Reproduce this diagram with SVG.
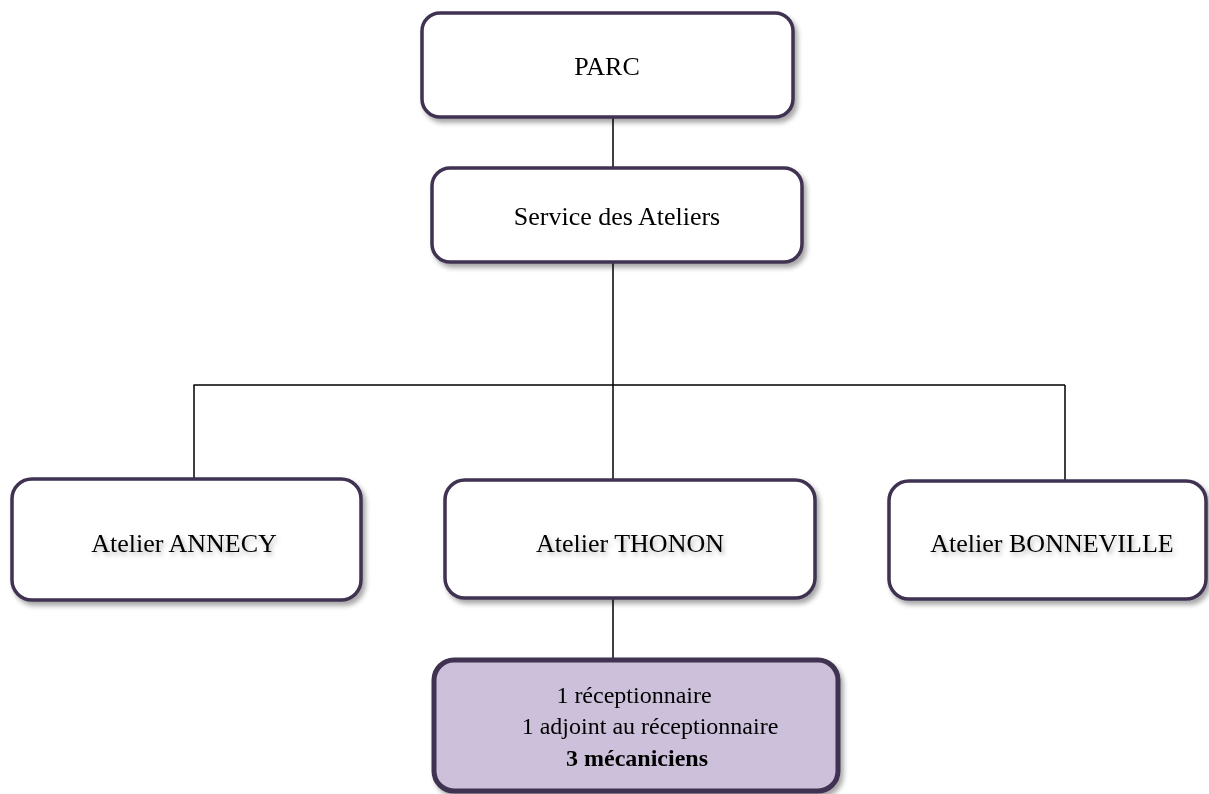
<svg xmlns="http://www.w3.org/2000/svg" width="1209" height="794" viewBox="0 0 1209 794">
<defs>
<filter id="sh" x="-10%" y="-10%" width="125%" height="130%">
<feDropShadow dx="3" dy="4" stdDeviation="2.5" flood-color="#000" flood-opacity="0.35"/>
</filter>
<filter id="tsh" x="-10%" y="-30%" width="125%" height="170%">
<feDropShadow dx="2" dy="3" stdDeviation="2.5" flood-color="#000" flood-opacity="0.3"/>
</filter>
</defs>
<style>
.box{fill:#ffffff;stroke:#3f3151;stroke-width:3.5}
.hl{fill:#ccc0da;stroke:#3f3151;stroke-width:5}
.t{font-family:"Liberation Serif","Times New Roman",serif;font-size:26px;fill:#000;text-anchor:middle}
.ts{filter:url(#tsh)}
.s{font-size:24px}
.b{font-weight:bold}
.c{fill:none;stroke:#000;stroke-width:1.5}
</style>
<rect width="1209" height="794" fill="#ffffff"/>
<g id="connectors">
<line class="c" x1="613" y1="117" x2="613" y2="168"/>
<line class="c" x1="613" y1="262" x2="613" y2="385"/>
<line class="c" x1="193.5" y1="385" x2="1065" y2="385"/>
<line class="c" x1="194" y1="385" x2="194" y2="479"/>
<line class="c" x1="613" y1="385" x2="613" y2="480"/>
<line class="c" x1="1065" y1="385" x2="1065" y2="481"/>
<line class="c" x1="613" y1="598" x2="613" y2="660"/>
</g>
<g id="parc" filter="url(#sh)">
<rect class="box" x="422" y="13" width="371" height="104" rx="18"/>
<text class="t" x="607" y="75">PARC</text>
</g>
<g id="service" filter="url(#sh)">
<rect class="box" x="432" y="168" width="370" height="94" rx="18"/>
<text class="t" x="617" y="225">Service des Ateliers</text>
</g>
<g id="annecy" filter="url(#sh)">
<rect class="box" x="12" y="479" width="349" height="121" rx="20"/>
<text class="t ts" x="184" y="552">Atelier ANNECY</text>
</g>
<g id="thonon" filter="url(#sh)">
<rect class="box" x="445" y="480" width="370" height="118" rx="20"/>
<text class="t ts" x="630" y="552">Atelier THONON</text>
</g>
<g id="bonneville" filter="url(#sh)">
<rect class="box" x="889" y="481" width="317" height="118" rx="20"/>
<text class="t ts" x="1052" y="552">Atelier BONNEVILLE</text>
</g>
<g id="personnel" filter="url(#sh)">
<rect class="hl" x="434" y="660" width="404" height="131" rx="20"/>
<text class="t s" x="634" y="703">1 réceptionnaire</text>
<text class="t s" x="650" y="734">1 adjoint au réceptionnaire</text>
<text class="t s b" x="637" y="766">3 mécaniciens</text>
</g>
</svg>
